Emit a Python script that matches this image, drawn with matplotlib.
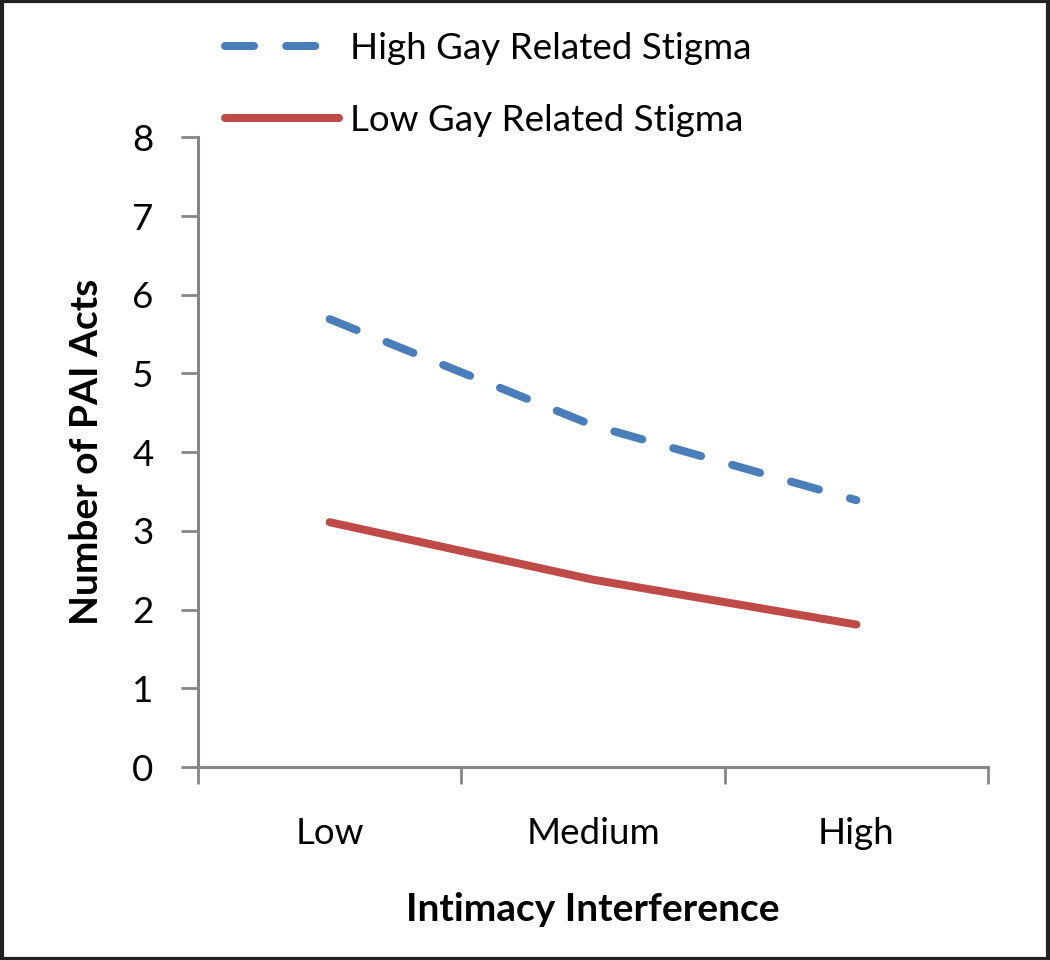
import matplotlib.pyplot as plt
from matplotlib.patches import Rectangle

# values
levels = ['Low', 'Medium', 'High']
high_stigma = [5.69, 4.34, 3.39]
low_stigma = [3.11, 2.38, 1.81]
series_names = ['High Gay Related Stigma', 'Low Gay Related Stigma']

plt.rcParams['font.family'] = ['Lato', 'DejaVu Sans']

fig = plt.figure(figsize=(10.5, 9.6), dpi=100)
ax = fig.add_axes([0.1886, 0.201, 0.7524, 0.656])

x = range(len(levels))
ax.plot(x, high_stigma, color='#4A7EBB', lw=5.8, linestyle=(0, (3.6, 4)),
        dash_capstyle='round', label=series_names[0])
ax.plot(x, low_stigma, color='#BE4B48', lw=5.8, solid_capstyle='round',
        label=series_names[1])

ax.set_xlim(-0.5, 2.5)
ax.set_ylim(0, 8)
ax.set_yticks(range(0, 9))
ax.tick_params(axis='y', labelsize=26.5, length=12, width=2, color='#868686',
               direction='out', pad=20)

# boundary ticks on major, category labels on minor
ax.set_xticks([-0.5, 0.5, 1.5, 2.5])
ax.set_xticklabels([])
ax.set_xticks(list(x), minor=True)
ax.set_xticklabels(levels, minor=True)
ax.tick_params(axis='x', which='major', length=12, width=2, color='#868686')
ax.tick_params(axis='x', which='minor', length=0, labelsize=26.5, pad=36)

for s in ['top', 'right']:
    ax.spines[s].set_visible(False)
for s in ['left', 'bottom']:
    ax.spines[s].set_color('#868686')
    ax.spines[s].set_linewidth(2.2)

ax.set_xlabel('Intimacy Interference', fontsize=28, fontweight='bold', labelpad=30)
ax.set_ylabel('Number of PAI Acts', fontsize=28, fontweight='bold', labelpad=20)

ax.legend(loc='upper left', bbox_to_anchor=(0.2, 0.982), bbox_transform=fig.transFigure,
          frameon=False, fontsize=26.5, handlelength=3.1, handletextpad=0.3,
          labelspacing=1.05, borderaxespad=0)

fig.patches.append(Rectangle((0.0015, 0.0015), 0.997, 0.997, transform=fig.transFigure,
                             fill=False, edgecolor='#222222', lw=3))

fig.savefig('out.png', dpi=100, facecolor='white')
